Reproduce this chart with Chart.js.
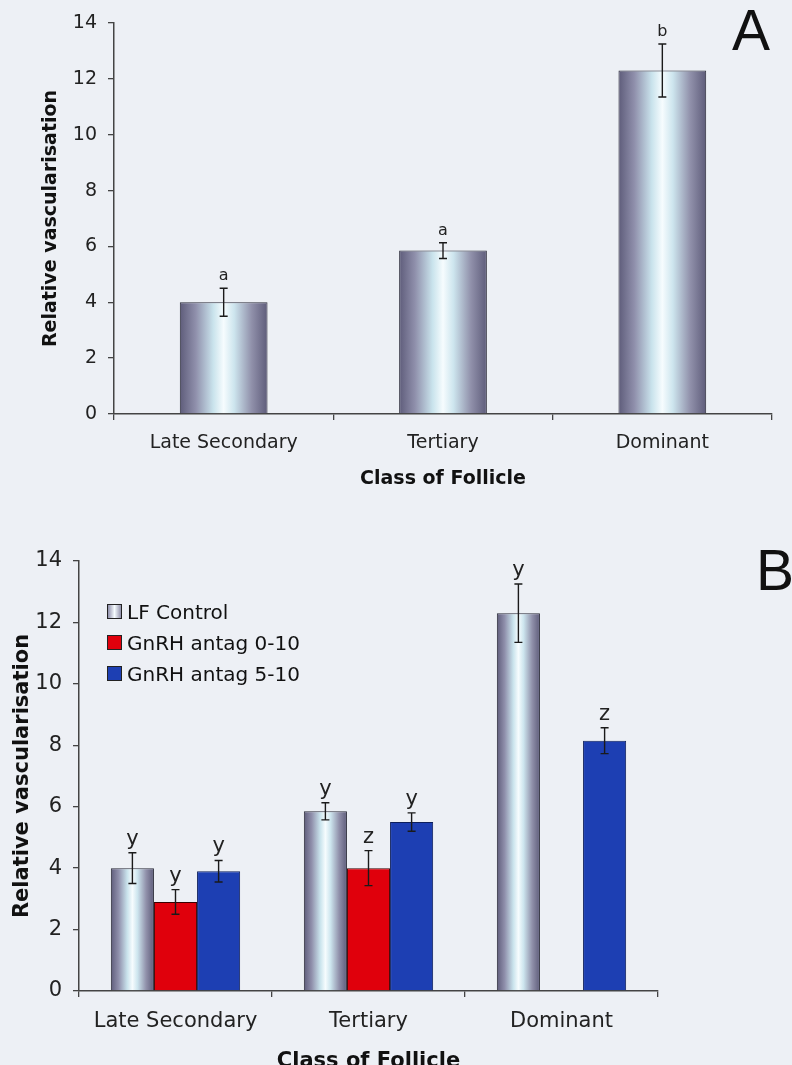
<!DOCTYPE html>
<html>
<head>
<meta charset="utf-8">
<script src="https://cdn.jsdelivr.net/npm/chart.js@4.4.1/dist/chart.umd.min.js"></script>
<style>
  body { margin: 0; width: 792px; height: 1065px; overflow: hidden; position: relative;
         background: #edf0f5; font-family: 'DejaVu Sans', sans-serif; }
  #chartA { position: absolute; left: 0; top: 0; }
  #chartB { position: absolute; left: 0; top: 520px; }
  .panel { position: absolute; font: 57px 'Liberation Sans', Arial, sans-serif; color: #111; line-height: 1; }
  #legendB { position: absolute; left: 107px; top: 596px; font-size: 20px; color: #111; }
  #legendB div { height: 31px; display: flex; align-items: center; }
  #legendB span.box { display: inline-block; width: 13px; height: 13px; border: 1px solid #222; margin-right: 5px; }
</style>
</head>
<body>
<canvas id="chartA" width="792" height="500"></canvas>
<canvas id="chartB" width="792" height="560"></canvas>
<div class="panel" style="left:732px; top:2px;">A</div>
<div class="panel" style="left:756px; top:542px;">B</div>
<div id="legendB"></div>
<script>
const categories = ['Late Secondary', 'Tertiary', 'Dominant'];
const seriesNames = ['LF Control', 'GnRH antag 0-10', 'GnRH antag 5-10'];
const yTicks = [0, 2, 4, 6, 8, 10, 12, 14];

// panel A: LF control only
const aValues = [4.0, 5.85, 12.3];
const aErrors = [0.5, 0.28, 0.95];
const aLetters = ['a', 'a', 'b'];

// panel B
const lfValues = [4.0, 5.85, 12.3];
const lfErrors = [0.5, 0.28, 0.95];
const lfLetters = ['y', 'y', 'y'];
const gnrh010Values = [2.9, 4.0, null];
const gnrh010Errors = [0.4, 0.57, null];
const gnrh010Letters = ['y', 'z', ''];
const gnrh510Values = [3.9, 5.5, 8.15];
const gnrh510Errors = [0.35, 0.3, 0.42];
const gnrh510Letters = ['y', 'y', 'z'];

const red = '#e0000c';
const blue = '#1d3fb3';
const shadeStops = [[0, '#5e5c7a'], [0.18, '#8f8fab'], [0.38, '#c9e3ec'], [0.5, '#f6fcfe'],
                    [0.62, '#cde5ee'], [0.82, '#9090aa'], [1, '#5e5c7a']];

Chart.defaults.font.family = "'DejaVu Sans', sans-serif";
Chart.defaults.color = '#222';

// metallic gradient on the LF control bars
const barShade = {
  id: 'barShade',
  beforeDatasetsDraw(chart, args, opts) {
    const ctx = chart.ctx;
    (opts.datasets || []).forEach(i => {
      chart.getDatasetMeta(i).data.forEach(bar => {
        if (!bar.width) return;
        const g = ctx.createLinearGradient(bar.x - bar.width / 2, 0, bar.x + bar.width / 2, 0);
        shadeStops.forEach(s => g.addColorStop(s[0], s[1]));
        bar.options = Object.assign({}, bar.options, { backgroundColor: g });
      });
    });
  }
};

// error bars + significance letters
const errorBars = {
  id: 'errorBars',
  afterDatasetsDraw(chart, args, opts) {
    const ctx = chart.ctx;
    const y = chart.scales.y;
    ctx.save();
    (opts.sets || []).forEach((set, i) => {
      const data = chart.data.datasets[i].data;
      chart.getDatasetMeta(i).data.forEach((bar, j) => {
        const v = data[j];
        if (v == null) return;
        const top = y.getPixelForValue(v + set.errors[j]);
        const bot = y.getPixelForValue(v - set.errors[j]);
        ctx.strokeStyle = '#1a1a1a';
        ctx.lineWidth = 1.4;
        ctx.beginPath();
        ctx.moveTo(bar.x, top); ctx.lineTo(bar.x, bot);
        ctx.moveTo(bar.x - opts.cap, top); ctx.lineTo(bar.x + opts.cap, top);
        ctx.moveTo(bar.x - opts.cap, bot); ctx.lineTo(bar.x + opts.cap, bot);
        ctx.stroke();
        if (set.letters[j]) {
          ctx.fillStyle = '#222';
          ctx.font = opts.font;
          ctx.textAlign = 'center';
          ctx.textBaseline = 'alphabetic';
          ctx.fillText(set.letters[j], bar.x, top - opts.gap);
        }
      });
    });
    ctx.restore();
  }
};

function axes(fontSize, leftW, bottomH, yTitlePad, xTitlePad, xTickPad) {
  return {
    x: {
      grid: { drawOnChartArea: false, tickLength: 6, color: '#444', lineWidth: 1.3 },
      border: { color: '#444', width: 1.5 },
      ticks: { font: { size: fontSize }, padding: xTickPad },
      title: { display: true, text: 'Class of Follicle', font: { size: fontSize, weight: 'bold' },
               color: '#111', padding: { top: 0, bottom: xTitlePad } },
      afterFit: s => { s.height = bottomH; }
    },
    y: {
      min: 0, max: 14,
      afterBuildTicks: s => { s.ticks = yTicks.map(v => ({ value: v })); },
      grid: { drawOnChartArea: false, tickLength: 6, color: '#444', lineWidth: 1.3 },
      border: { color: '#444', width: 1.5 },
      ticks: { font: { size: fontSize }, padding: 11 },
      title: { display: true, text: 'Relative vascularisation', font: { size: fontSize, weight: 'bold' },
               color: '#111', padding: { top: yTitlePad, bottom: 0 } },
      afterFit: s => { s.width = leftW; }
    }
  };
}

new Chart(document.getElementById('chartA'), {
  type: 'bar',
  data: {
    labels: categories,
    datasets: [{
      label: seriesNames[0], data: aValues, backgroundColor: '#b9c0d0',
      borderColor: '#2a2a38', borderWidth: 1, barPercentage: 0.4, categoryPercentage: 1
    }]
  },
  options: {
    responsive: false, animation: false,
    layout: { padding: { top: 23, right: 20, left: 0, bottom: 0 } },
    scales: axes(19, 114, 86, 40, 10, 12),
    plugins: {
      legend: { display: false }, tooltip: { enabled: false },
      barShade: { datasets: [0] },
      errorBars: { cap: 4, gap: 8, font: "16px 'DejaVu Sans'",
                   sets: [{ errors: aErrors, letters: aLetters }] }
    }
  },
  plugins: [barShade, errorBars]
});

const chartB = new Chart(document.getElementById('chartB'), {
  type: 'bar',
  data: {
    labels: categories,
    datasets: [
      { label: seriesNames[0], data: lfValues, backgroundColor: '#b9c0d0', borderColor: '#2a2a38', borderWidth: 1 },
      { label: seriesNames[1], data: gnrh010Values, backgroundColor: red, borderColor: '#3a0000', borderWidth: 1 },
      { label: seriesNames[2], data: gnrh510Values, backgroundColor: blue, borderColor: '#0d1f5c', borderWidth: 1 }
    ]
  },
  options: {
    responsive: false, animation: false,
    datasets: { bar: { barPercentage: 1, categoryPercentage: 0.67 } },
    layout: { padding: { top: 41, right: 134, left: 0, bottom: 0 } },
    scales: axes(21, 79, 89, 10, 6, 12),
    plugins: {
      legend: { display: false }, tooltip: { enabled: false },
      barShade: { datasets: [0] },
      errorBars: { cap: 4, gap: 8, font: "21px 'DejaVu Sans'",
                   sets: [
                     { errors: lfErrors, letters: lfLetters },
                     { errors: gnrh010Errors, letters: gnrh010Letters },
                     { errors: gnrh510Errors, letters: gnrh510Letters }
                   ] }
    }
  },
  plugins: [barShade, errorBars]
});

// legend for panel B built from the chart's datasets
const legendB = document.getElementById('legendB');
chartB.data.datasets.forEach((ds, i) => {
  const row = document.createElement('div');
  const box = document.createElement('span');
  box.className = 'box';
  box.style.background = i === 0 ? 'linear-gradient(90deg,#8f8fab,#f6fcfe 50%,#9090aa)' : ds.backgroundColor;
  row.appendChild(box);
  row.appendChild(document.createTextNode(ds.label));
  legendB.appendChild(row);
});
</script>
</body>
</html>
